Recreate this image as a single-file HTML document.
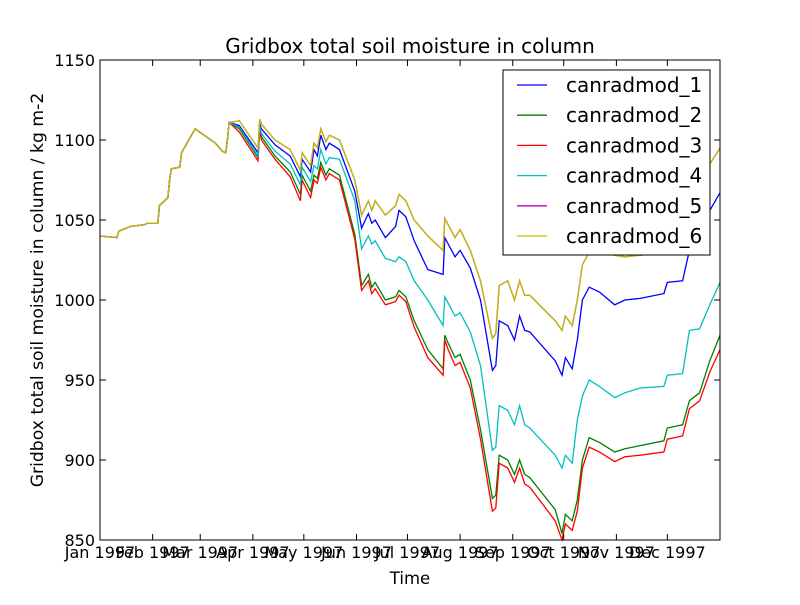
<!DOCTYPE html>
<html><head><meta charset="utf-8"><style>
body{margin:0;background:#fff}
svg text{font-family:"DejaVu Sans","Liberation Sans",sans-serif}
</style></head><body>
<svg id="chart" width="800" height="600" xmlns="http://www.w3.org/2000/svg">
<rect width="800" height="600" fill="#fff"/>
<text x="410" y="53" font-size="20" text-anchor="middle">Gridbox total soil moisture in column</text>
<text x="410" y="584" font-size="16.5" text-anchor="middle">Time</text>
<text transform="translate(43,290) rotate(-90)" font-size="17.2" text-anchor="middle">Gridbox total soil moisture in column / kg m-2</text>
<g id="series"></g>
<g id="axes"></g>
<rect x="100" y="60" width="620" height="480" fill="none" stroke="#000" stroke-width="1"/>
<g>
<rect x="503" y="70" width="207" height="185" fill="#fff" stroke="#000" stroke-width="1"/>
<g id="legend-entries"></g>
</g>
</svg>
<script>
const days=[0,10,11,18,26,28,34,35,40,41,42,47,48,56,68,72,74,75,76,82,93,94,95,103,112,118,119,124,126,128,130,133,135,141,150,154,158,160,162,168,174,176,180,185,193,202,203,205,209,212,218,224,231,233,235,240,244,247,250,253,268,272,274,278,281,284,288,294,303,309,318,332,334,343,347,353,359,365];
const early=[1040,1039,1043,1046,1047,1048,1048,1059,1064,1075,1082,1083,1092,1107,1098,1093,1092,1100,1111];
const s6=early.concat([1112,1095,1113,1110,1100,1094,1081,1092,1084,1098,1095,1107,1099,1103,1100,1075,1053,1062,1056,1062,1053,1059,1066,1062,1050,1040,1031,1051,1047,1039,1044,1031,1012,976,979,1009,1012,1000,1012,1003,1003,987,981,990,984,1000,1022,1030,1031,1028,1027,1028,1030,1040,1050,1060,1070,1085,1095]);
const s5=s6.slice();
const s1=early.concat([1109,1092,1110,1107,1097,1090,1077,1088,1080,1094,1090,1103,1094,1098,1094,1068,1045,1054,1048,1050,1039,1046,1056,1052,1037,1019,1016,1039,1035,1027,1031,1020,1000,956,959,987,984,975,990,981,980,962,953,964,957,975,1000,1008,1005,997,1000,1001,1004,1011,1012,1031,1037,1056,1067]);
const s4=early.concat([1108,1090,1109,1104,1093,1085,1072,1083,1074,1084,1082,1094,1085,1089,1088,1062,1032,1040,1035,1037,1026,1024,1027,1024,1012,1000,984,1002,998,990,992,980,959,906,908,934,931,922,934,922,920,903,895,903,898,925,940,950,946,939,942,945,946,953,954,981,982,997,1011]);
const s2=early.concat([1107,1089,1108,1102,1090,1080,1066,1078,1068,1078,1076,1086,1078,1082,1078,1041,1009,1016,1008,1011,1000,1002,1006,1002,987,969,957,978,973,964,966,950,919,876,878,903,900,891,900,891,889,869,854,866,862,875,900,914,911,905,907,909,912,920,922,937,942,962,978]);
const s3=early.concat([1105,1087,1106,1100,1088,1077,1062,1075,1064,1075,1073,1083,1075,1079,1075,1038,1006,1012,1004,1007,997,999,1003,999,983,964,953,975,969,959,961,945,913,868,870,898,895,886,895,885,883,862,850,860,856,868,895,908,905,899,902,903,905,913,915,932,937,955,969]);
const seriesNames=["canradmod_1","canradmod_2","canradmod_3","canradmod_4","canradmod_5","canradmod_6"];
const seriesColors=["#0000ff","#008000","#ff0000","#00bfbf","#bf00bf","#bfbf00"];
const yTicks=[850,900,950,1000,1050,1100,1150];
const monthDays=[0,31,59,90,120,151,181,212,243,273,304,334];
const monthLabels=["Jan 1997","Feb 1997","Mar 1997","Apr 1997","May 1997","Jun 1997","Jul 1997","Aug 1997","Sep 1997","Oct 1997","Nov 1997","Dec 1997"];
const all=[s1,s2,s3,s4,s5,s6];
const NS="http://www.w3.org/2000/svg";
function xS(d){return 100+d*620/365;}
function yS(v){return 540-(v-850)*480/300;}
const sg=document.getElementById('series');
all.forEach((s,i)=>{
 const p=document.createElementNS(NS,'polyline');
 p.setAttribute('points',days.map((d,j)=>xS(d).toFixed(1)+','+yS(s[j]).toFixed(1)).join(' '));
 p.setAttribute('fill','none');p.setAttribute('stroke',seriesColors[i]);p.setAttribute('stroke-width','1.3');
 
 
 sg.appendChild(p);
});
const ax=document.getElementById('axes');
function line(x1,y1,x2,y2){const l=document.createElementNS(NS,'line');l.setAttribute('x1',x1);l.setAttribute('y1',y1);l.setAttribute('x2',x2);l.setAttribute('y2',y2);l.setAttribute('stroke','#000');ax.appendChild(l);return l;}
yTicks.forEach(v=>{
 const y=yS(v);
 line(100,y,106,y);line(720,y,714,y);
 const t=document.createElementNS(NS,'text');
 t.setAttribute('x',95);t.setAttribute('y',y+6);t.setAttribute('font-size','16');t.setAttribute('text-anchor','end');
 t.textContent=v;
 
 
 ax.appendChild(t);
});
monthDays.forEach((d,i)=>{
 const x=xS(d);
 line(x,540,x,534);line(x,60,x,66);
 const t=document.createElementNS(NS,'text');
 t.setAttribute('x',x);t.setAttribute('y',558);t.setAttribute('font-size','16');t.setAttribute('text-anchor','middle');
 t.textContent=monthLabels[i];
 
 
 ax.appendChild(t);
});
const lg=document.getElementById('legend-entries');
seriesNames.forEach((n,i)=>{
 const y=85+i*30.2;
 const l=document.createElementNS(NS,'line');
 l.setAttribute('x1',517);l.setAttribute('x2',547);l.setAttribute('y1',y);l.setAttribute('y2',y);l.setAttribute('stroke',seriesColors[i]);l.setAttribute('stroke-width','1.3');
 
 
 lg.appendChild(l);
 const t=document.createElementNS(NS,'text');
 t.setAttribute('x',566);t.setAttribute('y',y+7);t.setAttribute('font-size','20');
 t.textContent=n;
 
 
 lg.appendChild(t);
});
</script>
</body></html>
